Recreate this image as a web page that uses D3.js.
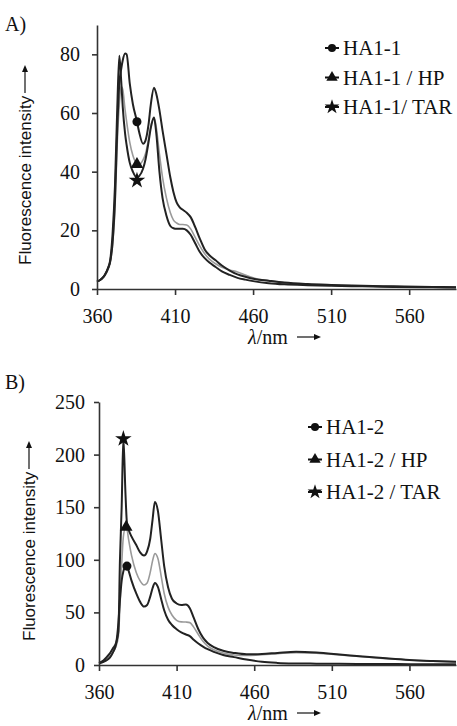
<!DOCTYPE html>
<html>
<head>
<meta charset="utf-8">
<script src="https://cdn.jsdelivr.net/npm/d3@7"></script>
<style>
  body { margin: 0; background: #fff; }
  svg { display: block; }
  .axis path, .axis line { stroke: #333; stroke-width: 1.6px; }
  .axis text { font-family: "Liberation Serif", "Times New Roman", serif; font-size: 20px; fill: #111; }
</style>
</head>
<body>
<svg width="457" height="726"></svg>
<script>
// wavelengths (nm) and intensities
const wlA = [360, 363, 365, 367, 368.5, 370, 371.5, 373, 374.3, 375.5, 376.5, 378, 379, 381, 383, 385.5, 387, 389.5,
  391, 393, 394.5, 396.5, 398, 400, 402, 404.5, 407, 409, 411, 413, 415, 417.5, 420, 423, 426, 429, 432, 436, 440,
  445, 450, 455, 461, 470, 480, 495, 510, 530, 550, 575, 590];
const a1 = [2.5, 3.5, 4.8, 7, 9.5, 16, 30, 55, 70, 75, 78, 80.3, 80, 70, 63, 57.3, 53.5, 49.5,
  50.5, 56, 63, 68.6, 66.5, 61, 54, 46, 38, 33, 29.5, 27.8, 27, 26, 24.5, 21, 17, 13.5, 11.5, 9.8, 8,
  6.3, 5, 4.2, 3.4, 2.8, 2.2, 1.7, 1.4, 1.1, 0.9, 0.7, 0.6];
const a1HP = [2.5, 3.4, 4.5, 6.5, 9, 15, 27, 50, 63, 69, 68, 61, 57, 50, 45.5, 42.8, 42.5, 44,
  46, 51, 55.5, 58.5, 55, 46, 38, 31, 26, 23.5, 22.5, 22, 22, 21.8, 20.5, 17.5, 14.5, 12, 10.2, 8.6, 7.4,
  6.5, 5.8, 4.8, 3.7, 2.8, 2.1, 1.6, 1.3, 1, 0.8, 0.6, 0.5];
const a1TAR = [2.5, 3.5, 4.8, 7, 10, 19, 35, 62, 79.5, 71, 62, 53, 49, 43, 40, 38, 38.5, 41,
  44, 50, 55, 58.5, 53, 40, 31, 25, 21.5, 20.7, 20.5, 20.5, 20.5, 20, 18.5, 15.5, 12.5, 10.5, 9, 7.5, 6,
  4.8, 3.8, 3.2, 2.6, 2, 1.6, 1.3, 1.1, 0.9, 0.7, 0.6, 0.5];

const wlB = [360, 363, 365, 367, 369, 371, 372.5, 373.5, 374.6, 375.7, 377, 378, 379, 381, 384, 386.5, 389, 391,
  393, 394.5, 396, 398, 400, 402, 404.5, 407, 410, 413, 416, 418.5, 421, 424, 427, 430, 434, 440, 447, 455,
  465, 475, 487, 500, 515, 530, 545, 560, 575, 590];
const b2 = [1.5, 3, 4.5, 7, 12, 20, 40, 62, 80, 89, 93.5, 94, 90, 80, 68, 60, 55.5, 57,
  65, 73, 78, 74, 63, 52, 43, 38, 34, 31, 29, 27.5, 24, 20.5, 17.5, 15, 12.5, 9.5, 7.5, 5.2,
  3, 2, 1.5, 1.3, 1.1, 1, 0.9, 0.8, 0.7, 0.6];
const b2HP = [1.8, 3.5, 5.5, 8, 12, 18, 28, 55, 95, 122, 130, 129, 120, 104, 88, 80, 76, 78,
  88, 99, 106, 101, 85, 68, 55, 47.5, 42.5, 41, 40.8, 40.3, 36, 29, 22.5, 18, 14.5, 11.5, 9.5, 9,
  9.8, 10.8, 11.8, 11.2, 9.6, 7.8, 6.1, 4.7, 3.7, 3];
const b2TAR = [2, 4.5, 7.5, 11, 16, 21, 32, 100, 150, 216, 165, 135, 129, 122, 114, 107, 104, 108,
  120, 138, 155, 146, 120, 94, 74, 63, 58.5, 57, 57.5, 54, 45, 34, 26, 21, 17, 13.5, 11.5, 10.2,
  10.5, 11.5, 12.5, 11.8, 10, 8, 6.3, 4.8, 3.8, 3];

// identifying markers placed on the curves
const markWlA = [385.6, 385.6, 385.6];
const markValA = [57, 42.5, 37];
const markWlB = [378, 377.5, 375.7];
const markValB = [94, 131, 215];

const xTicks = [360, 410, 460, 510, 560];
const yTicksA = [0, 20, 40, 60, 80];
const yTicksB = [0, 50, 100, 150, 200, 250];
const labelsA = ['HA1-1', 'HA1-1 / HP', 'HA1-1/ TAR'];
const labelsB = ['HA1-2', 'HA1-2 / HP', 'HA1-2 / TAR'];

const svg = d3.select('svg');
const serif = '"Liberation Serif", "Times New Roman", serif';
const symbols = [d3.symbolCircle, d3.symbolTriangle, d3.symbolStar];
const symSize = [64, 70, 85];

function arrowUp(g, x, y1, y2) {//vertical arrow pointing up
  g.append('line').attr('x1', x).attr('x2', x).attr('y1', y1).attr('y2', y2 + 6)
    .attr('stroke', '#111').attr('stroke-width', 1.2);
  g.append('path').attr('d', `M${x - 3},${y2 + 7}L${x},${y2}L${x + 3},${y2 + 7}Z`).attr('fill', '#111');
}
function arrowRight(g, x1, x2, y) {
  g.append('line').attr('x1', x1).attr('x2', x2 - 6).attr('y1', y).attr('y2', y)
    .attr('stroke', '#111').attr('stroke-width', 1.2);
  g.append('path').attr('d', `M${x2 - 7},${y - 3}L${x2},${y}L${x2 - 7},${y + 3}Z`).attr('fill', '#111');
}

function drawPanel(p) {
  const x = d3.scaleLinear().domain([360, 590]).range([p.left, 456]);
  const y = d3.scaleLinear().domain([0, p.ymax]).range([p.bottom, p.top]);

  const series = [
    {vals: p.hp, color: '#9a9a9a', w: 1.6},
    {vals: p.base, color: '#222', w: 2},
    {vals: p.tar, color: '#222', w: 2}
  ];
  const line = d3.line().x((d, i) => x(p.wl[i])).y(d => y(d)).curve(d3.curveMonotoneX);
  svg.append('g').selectAll('path').data(series).enter().append('path')
    .attr('d', d => line(d.vals))
    .attr('fill', 'none')
    .attr('stroke', d => d.color)
    .attr('stroke-width', d => d.w)
    .attr('stroke-linejoin', 'round');

  svg.append('g').attr('class', 'axis')
    .attr('transform', `translate(0,${p.bottom})`)
    .call(d3.axisBottom(x).tickValues(xTicks).tickFormat(d3.format('d')).tickSize(6).tickSizeOuter(0).tickPadding(14));
  svg.append('g').attr('class', 'axis')
    .attr('transform', `translate(${p.left},0)`)
    .call(d3.axisLeft(y).tickValues(p.yTicks).tickSize(5).tickSizeOuter(0).tickPadding(p.ypad));

  // markers on the curves
  svg.append('g').selectAll('path').data(p.mWl).enter().append('path')
    .attr('transform', (d, i) => `translate(${x(d)},${y(p.mVal[i])})`)
    .attr('d', (d, i) => d3.symbol(symbols[i], symSize[i])())
    .attr('fill', '#111');

  // legend
  const lg = svg.append('g').attr('transform', `translate(${p.legX},${p.legY})`);
  p.labels.forEach((t, i) => {
    const row = lg.append('g').attr('transform', `translate(0,${i * p.legDy})`);
    row.append('line').attr('x1', -7).attr('x2', 7).attr('stroke', '#111').attr('stroke-width', 2);
    row.append('path').attr('d', d3.symbol(symbols[i], symSize[i] * 0.8)()).attr('fill', '#111');
    row.append('text').attr('x', 11).attr('y', 7)
      .style('font-family', serif).style('font-size', '21px').attr('fill', '#111').text(t);
  });

  // panel letter
  svg.append('text').attr('x', 5).attr('y', p.top - 22 + p.letterDy)
    .style('font-family', serif).style('font-size', '20px').attr('fill', '#111').text(p.letter);

  // y label
  svg.append('text')
    .attr('transform', `translate(${p.ylabX},${p.ylabY}) rotate(-90)`)
    .style('font-family', '"Liberation Sans", Arial, sans-serif').style('font-size', '17px')
    .attr('fill', '#111').text('Fluorescence intensity');
  arrowUp(svg, p.ylabX - 6, p.ylabY - 172, p.ylabY - 200);

  // x label
  const xl = svg.append('text').attr('x', 248).attr('y', p.bottom + 55)
    .style('font-family', serif).style('font-size', '20px').attr('fill', '#111');
  xl.append('tspan').style('font-style', 'italic').text('λ');
  xl.append('tspan').text('/nm');
  arrowRight(svg, 297, 321, p.bottom + 48);
}

drawPanel({wl: wlA, base: a1, hp: a1HP, tar: a1TAR, left: 97, top: 25, bottom: 289, ymax: 90,
  yTicks: yTicksA, ypad: 12, mWl: markWlA, mVal: markValA, labels: labelsA,
  legX: 332, legY: 48, legDy: 29.5, letter: 'A)', letterDy: 28, ylabX: 31, ylabY: 265});
drawPanel({wl: wlB, base: b2, hp: b2HP, tar: b2TAR, left: 99, top: 402, bottom: 665, ymax: 250,
  yTicks: yTicksB, ypad: 9, mWl: markWlB, mVal: markValB, labels: labelsB,
  legX: 315, legY: 427, legDy: 32.5, letter: 'B)', letterDy: 9, ylabX: 35, ylabY: 641});
</script>
</body>
</html>
